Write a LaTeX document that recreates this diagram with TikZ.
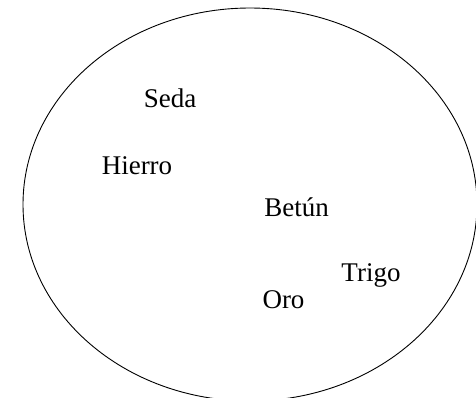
\documentclass[tikz,border=0pt]{standalone}
\usepackage{fontspec}
\setmainfont{Liberation Serif}
\usepackage{tikz}

\begin{document}
\begin{tikzpicture}[x=1pt, y=-1pt, word/.style={anchor=base, inner sep=0pt, font=\fontsize{27}{32}\selectfont}]
\useasboundingbox (0,0) rectangle (476,397);
\draw[line width=0.9pt] (250,204.5) ellipse [x radius=227, y radius=196.5];
\node[word] (seda) at (170,107) {Seda};
\node[word] (hierro) at (137,174) {Hierro};
\node[word] (betun) at (296.5,216) {Betún};
\node[word] (trigo) at (371,281) {Trigo};
\node[word] (oro) at (283.5,308) {Oro};
\end{tikzpicture}
\end{document}
